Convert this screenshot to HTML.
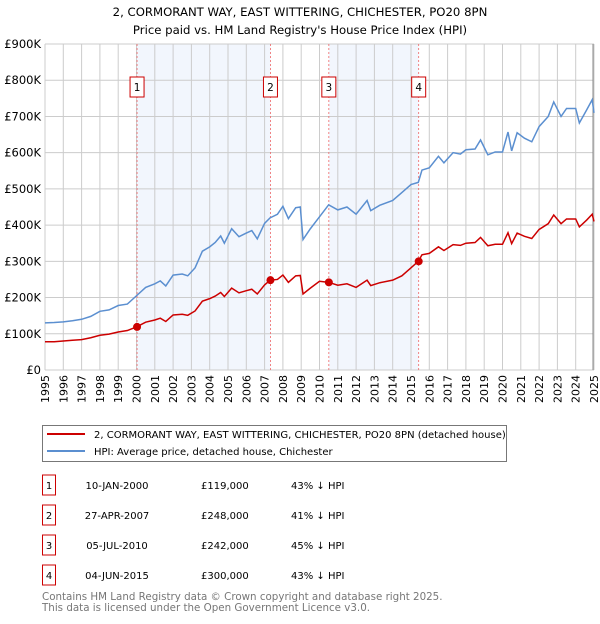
<!DOCTYPE html>
<html><head><meta charset="utf-8"><style>
body{margin:0;background:#fff;font-family:"DejaVu Sans","Liberation Sans",sans-serif;}
svg text{font-family:"DejaVu Sans","Liberation Sans",sans-serif;}
</style></head><body>
<svg id="chart" width="600" height="620" xmlns="http://www.w3.org/2000/svg">
<text x="300" y="16" text-anchor="middle" font-size="11.7">2, CORMORANT WAY, EAST WITTERING, CHICHESTER, PO20 8PN</text>
<text x="300" y="34" text-anchor="middle" font-size="11.7">Price paid vs. HM Land Registry's House Price Index (HPI)</text>
<g id="plot"></g>
<g>
<rect x="42.5" y="425.5" width="464" height="36" fill="#fff" stroke="#777"/>
<line x1="47" y1="434" x2="85" y2="434" stroke="#cc0000" stroke-width="2"/>
<text x="94" y="438" font-size="10">2, CORMORANT WAY, EAST WITTERING, CHICHESTER, PO20 8PN (detached house)</text>
<line x1="47" y1="451" x2="85" y2="451" stroke="#5b8fd0" stroke-width="2"/>
<text x="94" y="455" font-size="10">HPI: Average price, detached house, Chichester</text>
</g>
<g id="table" font-size="10"></g>
<text x="42" y="600" font-size="10.3" fill="#777">Contains HM Land Registry data © Crown copyright and database right 2025.</text>
<text x="42" y="611" font-size="10.3" fill="#777">This data is licensed under the Open Government Licence v3.0.</text>
</svg>
<script>
const yearTicks=[1995,1996,1997,1998,1999,2000,2001,2002,2003,2004,2005,2006,2007,2008,2009,2010,2011,2012,2013,2014,2015,2016,2017,2018,2019,2020,2021,2022,2023,2024,2025];
const valueTicks=[0,100,200,300,400,500,600,700,800,900];
const valueTickLabels=["£0","£100K","£200K","£300K","£400K","£500K","£600K","£700K","£800K","£900K"];
const dates=[1995.0,1995.5,1996,1996.5,1997,1997.5,1998,1998.5,1999,1999.5,2000,2000.5,2001,2001.3,2001.6,2002,2002.5,2002.8,2003.2,2003.6,2004,2004.3,2004.6,2004.8,2005.2,2005.6,2006,2006.3,2006.6,2007,2007.3,2007.7,2008,2008.3,2008.7,2008.95,2009.1,2009.5,2010,2010.5,2011,2011.5,2012,2012.6,2012.8,2013.3,2014,2014.5,2015,2015.4,2015.6,2016,2016.5,2016.8,2017.3,2017.7,2018,2018.5,2018.8,2019.2,2019.6,2020,2020.3,2020.5,2020.8,2021.2,2021.6,2022,2022.5,2022.8,2023.2,2023.5,2024,2024.2,2024.6,2024.9,2025];
const hpiValues=[130,131,133,136,140,148,162,166,178,182,205,228,238,246,232,262,265,260,282,328,340,352,370,350,390,368,378,385,362,405,420,430,452,418,448,450,360,390,423,456,442,450,430,468,440,455,468,490,512,518,552,558,590,572,600,596,608,610,635,594,602,602,657,605,655,640,630,672,700,740,700,722,722,682,718,746,710];
const priceValues=[78,78,80,82,84,89,96,99,105,109,119,132,138,143,134,152,154,151,163,190,197,204,214,203,226,213,219,223,210,235,248,250,262,242,260,261,210,226,245,242,234,238,228,248,233,241,248,260,282,300,318,322,340,330,346,344,350,352,366,343,347,347,379,349,378,369,363,388,404,428,404,417,417,395,414,430,410];
const saleLabels=["1","2","3","4"];
const saleDates=[2000.03,2007.32,2010.51,2015.42];
const salePrices=[119,248,242,300];
const saleDateText=["10-JAN-2000","27-APR-2007","05-JUL-2010","04-JUN-2015"];
const salePriceText=["£119,000","£248,000","£242,000","£300,000"];
const saleHpiText=["43% ↓ HPI","41% ↓ HPI","45% ↓ HPI","43% ↓ HPI"];

const NS="http://www.w3.org/2000/svg";
const X0=45,X1=594,Y0=370,Y1=44;
const xs=y=>X0+(y-1995)/30*(X1-X0);
const ys=v=>Y0-v/900*(Y0-Y1);
function mk(tag,attrs,parent){const e=document.createElementNS(NS,tag);for(const k in attrs)e.setAttribute(k,attrs[k]);parent.appendChild(e);return e;}
const plot=document.getElementById('plot');
for(let i=0;i<saleDates.length;i+=2){
 const r=mk('rect',{x:xs(saleDates[i]),y:Y1,width:xs(saleDates[i+1])-xs(saleDates[i]),height:Y0-Y1,fill:'#f2f6fd'},plot);
 
 
}
yearTicks.forEach(y=>{
 const l=mk('line',{x1:xs(y),x2:xs(y),y1:Y1,y2:Y0,stroke:'#ccc','stroke-width':1},plot);
 
 
 const t=mk('text',{x:0,y:0,'font-size':11,'text-anchor':'end',transform:`translate(${xs(y)+4},${Y0+5}) rotate(-90)`},plot);
 t.textContent=y;
 
 
});
valueTicks.forEach((v,i)=>{
 const l=mk('line',{x1:X0,x2:X1,y1:ys(v),y2:ys(v),stroke:'#ccc','stroke-width':1},plot);
 
 
 const t=mk('text',{x:X0-4,y:ys(v)+4,'font-size':11.5,'text-anchor':'end'},plot);
 t.textContent=valueTickLabels[i];
 
 
});
const right=mk('line',{x1:X1-1,x2:X1-1,y1:Y1,y2:Y0,stroke:'#888','stroke-width':1},plot);


saleDates.forEach((d,i)=>{
 const l=mk('line',{x1:xs(d),x2:xs(d),y1:Y1,y2:Y0,stroke:'#e66','stroke-width':0.8,'stroke-dasharray':'2,2'},plot);
 
 
 const b=mk('rect',{x:xs(d)-7,y:77,width:14,height:20,fill:'#fff',stroke:'#cc0000'},plot);
 
 
 const t=mk('text',{x:xs(d),y:91,'font-size':10.5,'text-anchor':'middle'},plot);
 t.textContent=saleLabels[i];
 
 
});
const hp=mk('polyline',{points:dates.map((d,i)=>xs(d)+','+ys(hpiValues[i])).join(' '),fill:'none',stroke:'#5b8fd0','stroke-width':1.5},plot);


const pp=mk('polyline',{points:dates.map((d,i)=>xs(d)+','+ys(priceValues[i])).join(' '),fill:'none',stroke:'#cc0000','stroke-width':1.5},plot);


saleDates.forEach((d,i)=>{
 const c=mk('circle',{cx:xs(d),cy:ys(salePrices[i]),r:4,fill:'#cc0000'},plot);
 
 
});
const tb=document.getElementById('table');
saleLabels.forEach((s,i)=>{
 const y=485+i*30;
 const b=mk('rect',{x:42.5,y:y-10,width:13,height:20,fill:'#fff',stroke:'#cc0000'},tb);
 
 
 const cols=[[49,'middle',s],[117,'middle',saleDateText[i]],[201,'start',salePriceText[i]],[291,'start',saleHpiText[i]]];
 cols.forEach(c=>{
  const t=mk('text',{x:c[0],y:y+4,'text-anchor':c[1]},tb);
  t.textContent=c[2];
  
  
 });
});
</script>
</body></html>
